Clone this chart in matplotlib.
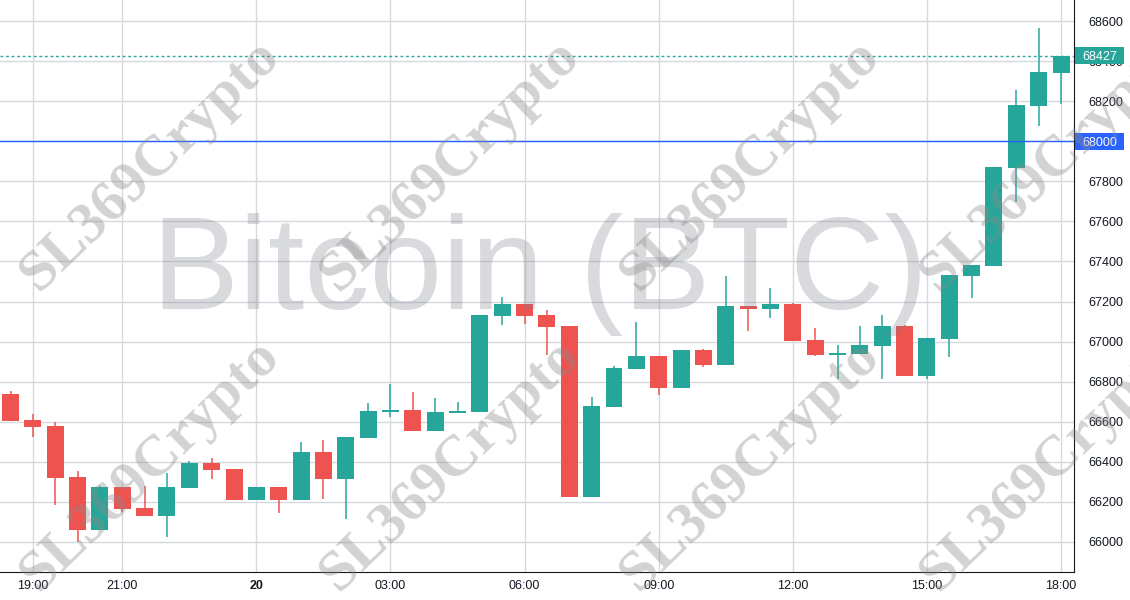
import matplotlib
matplotlib.use("Agg")
import matplotlib.pyplot as plt
from matplotlib.patches import Rectangle
import numpy as np

# ---- data (30-minute candles, 18:30 -> 18:00 next day) ----
opens  = [66737, 66607, 66577, 66322, 66058, 66273, 66167, 66128, 66268, 66392,
          66362, 66208, 66273, 66208, 66447, 66313, 66518, 66648, 66657, 66553,
          66642, 66648, 67128, 67187, 67132, 67077, 66223, 66673, 66863, 66927,
          66768, 66957, 66883, 67177, 67163, 67187, 67007, 66933, 66938, 66978,
          67077, 66828, 67013, 67328, 67378, 67868, 68178, 68343]
highs  = [66752, 66637, 66597, 66352, 66278, 66273, 66278, 66342, 66402, 66417,
          66362, 66273, 66273, 66497, 66507, 66522, 66692, 66787, 66747, 66717,
          66697, 67132, 67222, 67187, 67157, 67077, 66722, 66877, 67097, 66927,
          66957, 66963, 67327, 67177, 67267, 67192, 67067, 66982, 67077, 67132,
          67082, 67017, 67333, 67382, 67872, 68258, 68567, 68427]
lows   = [66603, 66523, 66183, 65998, 66058, 66148, 66128, 66023, 66268, 66312,
          66208, 66208, 66143, 66208, 66213, 66113, 66518, 66623, 66553, 66553,
          66642, 66648, 67083, 67088, 66933, 66223, 66223, 66673, 66863, 66733,
          66768, 66873, 66883, 67053, 67118, 67003, 66928, 66813, 66938, 66813,
          66828, 66813, 66923, 67217, 67378, 67698, 68078, 68188]
closes = [66603, 66573, 66318, 66058, 66273, 66163, 66128, 66273, 66392, 66358,
          66208, 66273, 66208, 66447, 66313, 66522, 66652, 66657, 66553, 66647,
          66652, 67132, 67187, 67128, 67073, 66223, 66677, 66867, 66927, 66768,
          66957, 66883, 67177, 67163, 67187, 67003, 66933, 66942, 66982, 67077,
          66828, 67017, 67333, 67382, 67872, 68182, 68347, 68427]

first_candle = "18:30"
tick_times  = ["19:00", "21:00", "00:00", "03:00", "06:00", "09:00", "12:00", "15:00", "18:00"]
tick_labels = ["19:00", "21:00", "20", "03:00", "06:00", "09:00", "12:00", "15:00", "18:00"]
price_ticks = [66000, 66200, 66400, 66600, 66800, 67000, 67200, 67400, 67600, 67800, 68000, 68200, 68400, 68600]
level_line = 68000
last_price = 68427

# candle times
h0, m0 = map(int, first_candle.split(":"))
times = []
for k in range(len(opens)):
    mins = (h0 * 60 + m0 + 30 * k) % (24 * 60)
    times.append(f"{mins // 60:02d}:{mins % 60:02d}")
tick_pos = [times.index(t) for t in tick_times]

UP = "#26a69a"
DN = "#ef5350"
GRID = "#d6d9dc"
TXT = "#131722"
BLUE = "#2962ff"

W, H = 1130, 600
fig = plt.figure(figsize=(W / 100, H / 100), dpi=100)
ax = fig.add_axes([0, 28 / H, 1074 / W, 572 / H])
ax.set_xlim(-0.47, 47.58)
ax.set_ylim(65850, 68705)

x = np.arange(len(opens))
o = np.array(opens); c = np.array(closes); h = np.array(highs); l = np.array(lows)
up = c >= o
cols = np.where(up, UP, DN)
ax.vlines(x, l, h, colors=cols, linewidth=1.1, zorder=3)
bottom = np.minimum(o, c)
height = np.maximum(np.abs(c - o), 4)
ax.bar(x, height, bottom=bottom, width=0.76, color=cols, linewidth=0, zorder=4)

# grid
for p in price_ticks:
    ax.axhline(p, color=GRID, linewidth=1, zorder=1)
for tp in tick_pos:
    ax.axvline(tp, color=GRID, linewidth=1, zorder=1)

# level lines
ax.axhline(level_line, color=BLUE, linewidth=1, zorder=5)
ax.axhline(last_price, color=UP, linewidth=1, linestyle=(0, (2, 2)), zorder=5)

# axes styling
ax.yaxis.tick_right()
ax.set_yticks(price_ticks)
ax.set_yticklabels([str(p) for p in price_ticks], fontsize=9, color=TXT, family="Liberation Sans")
ax.set_xticks(tick_pos)
ax.set_xticklabels(tick_labels, fontsize=9, color=TXT, family="Liberation Sans")
for lab in ax.get_xticklabels():
    if lab.get_text() == "20":
        lab.set_fontweight("bold")
ax.tick_params(axis="x", length=0, pad=6)
ax.tick_params(axis="y", length=0, pad=10)
for s in ["left", "top"]:
    ax.spines[s].set_visible(False)
ax.spines["right"].set_color(TXT)
ax.spines["bottom"].set_color(TXT)

# price label boxes on the axis (cover the tick label under them)
fig.canvas.draw()
for val, colr in [(last_price, UP), (level_line, BLUE)]:
    ypix = ax.transData.transform((0, val))[1]
    fig.add_artist(Rectangle((1075 / W, (ypix - 8.5) / H), 49 / W, 17 / H,
                             transform=fig.transFigure, fc=colr, ec="none", zorder=10))
    fig.text(1100 / W, ypix / H, f"{val}", ha="center", va="center_baseline", fontsize=9,
             color="white", family="Liberation Sans", zorder=11)

# watermarks
fig.text(540 / W, 1 - 309 / H, "Bitcoin (BTC)", ha="center", va="baseline",
         fontsize=94, color="#787b86", alpha=0.28, family="Liberation Sans", zorder=20)
for cy in [165, 465]:
    for cx in [150, 450, 750, 1050]:
        fig.text(cx / W, 1 - cy / H, "SL369Crypto", ha="center", va="center",
                 rotation=44, rotation_mode="anchor", fontsize=42, fontweight="bold",
                 family="Liberation Serif", color="#8a8a8a", alpha=0.38, zorder=21)

fig.savefig("out.png", dpi=100)
